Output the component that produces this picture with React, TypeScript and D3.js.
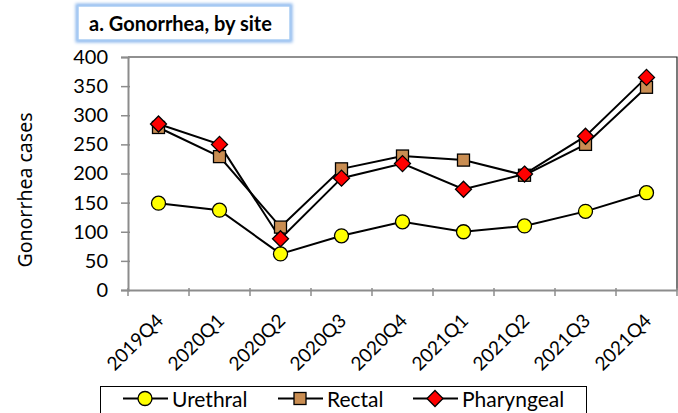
import React, { useRef, useEffect } from "react";
import * as d3 from "d3";

const quarters = ["2019Q4", "2020Q1", "2020Q2", "2020Q3", "2020Q4", "2021Q1", "2021Q2", "2021Q3", "2021Q4"];
const urethral = [149, 137, 62, 93, 117, 100, 110, 135, 167];
const rectal = [279, 229, 108, 208, 230, 223, 197, 250, 348];
const pharyngeal = [285, 250, 88, 192, 217, 173, 199, 264, 365];
const yTickValues = [0, 50, 100, 150, 200, 250, 300, 350, 400];

const W = 678;
const H = 413;
const plot = { left: 128, right: 677, top: 57, bottom: 290 };
const font = "Lato, 'Open Sans', sans-serif";

const drawMarker = (g: any, kind: string, x: number, y: number) => {
  if (kind === "circle") {
    g.append("circle").attr("cx", x).attr("cy", y).attr("r", 7)
      .attr("fill", "#ffff00").attr("stroke", "#000").attr("stroke-width", 1.3);
  } else if (kind === "square") {
    g.append("rect").attr("x", x - 6).attr("y", y - 6).attr("width", 12).attr("height", 12)
      .attr("fill", "#c98d52").attr("stroke", "#000").attr("stroke-width", 1.3);
  } else {
    const s = 8;
    g.append("path").attr("d", `M${x},${y - s}L${x + s},${y}L${x},${y + s}L${x - s},${y}Z`)
      .attr("fill", "#ff0000").attr("stroke", "#000").attr("stroke-width", 1.3);
  }
};

const App = () => {
  const ref: any = useRef();

  useEffect(() => {
    const svg = d3.select(ref.current);
    svg.selectAll("*").remove();

    const x = d3.scaleBand().domain(quarters).range([plot.left, plot.right]);
    const y = d3.scaleLinear().domain([0, 400]).range([plot.bottom, plot.top]);

    // plot area border
    svg.append("path")
      .attr("d", `M${plot.left},${plot.top}H${plot.right}V${plot.bottom}`)
      .attr("fill", "none").attr("stroke", "#222").attr("stroke-width", 1.2);

    // title box with soft blue glow
    const defs = svg.append("defs");
    const f = defs.append("filter").attr("id", "glow").attr("x", "-10%").attr("y", "-40%")
      .attr("width", "120%").attr("height", "180%");
    f.append("feGaussianBlur").attr("stdDeviation", 1.8);
    svg.append("rect").attr("x", 78).attr("y", 6).attr("width", 212).attr("height", 34)
      .attr("fill", "none").attr("stroke", "#8fb9ee").attr("stroke-width", 5).attr("filter", "url(#glow)");
    svg.append("rect").attr("x", 78).attr("y", 6).attr("width", 212).attr("height", 34)
      .attr("fill", "#fff").attr("stroke", "#a9ccf3").attr("stroke-width", 1.5);
    svg.append("text").attr("x", 89).attr("y", 31).attr("font-family", font)
      .attr("font-weight", "bold").attr("font-size", 20).text("a. Gonorrhea, by site");

    // y axis
    const yAxis = svg.append("g").attr("transform", `translate(${plot.left},0)`)
      .call(d3.axisLeft(y).tickValues(yTickValues).tickSize(7).tickPadding(13));
    yAxis.select(".domain").attr("stroke", "#8c8c8c").attr("stroke-width", 2);
    yAxis.selectAll(".tick line").attr("stroke", "#8c8c8c").attr("stroke-width", 1.5).attr("x2", 2).attr("x1", -7);
    yAxis.selectAll(".tick text").attr("font-family", font).attr("font-size", 20).attr("fill", "#000");

    // x axis
    const xAxis = svg.append("g").attr("transform", `translate(0,${plot.bottom})`)
      .call(d3.axisBottom(x).tickSize(0).tickFormat(() => ""));
    xAxis.select(".domain").attr("stroke", "#8c8c8c").attr("stroke-width", 2);
    const tickPos = [...quarters.map((q) => x(q) as number), plot.right];
    xAxis.selectAll(".bt").data(tickPos).enter().append("line")
      .attr("x1", (d: any) => d).attr("x2", (d: any) => d).attr("y1", -2).attr("y2", 6)
      .attr("stroke", "#8c8c8c").attr("stroke-width", 1.5);
    svg.selectAll(".xl").data(quarters).enter().append("text")
      .attr("transform", (d: any) => `translate(${(x(d) as number) + x.bandwidth() / 2 + 6},${plot.bottom + 32}) rotate(-45)`)
      .attr("text-anchor", "end").attr("font-family", font).attr("font-size", 19).text((d: any) => d);

    // y title
    svg.append("text").attr("transform", `translate(32,190) rotate(-90)`)
      .attr("text-anchor", "middle").attr("font-family", "'Noto Sans', sans-serif").attr("font-size", 19.5)
      .text("Gonorrhea cases");

    const series = [
      { name: "Urethral", values: urethral, kind: "circle" },
      { name: "Rectal", values: rectal, kind: "square" },
      { name: "Pharyngeal", values: pharyngeal, kind: "diamond" },
    ];
    const cx = (i: number) => (x(quarters[i]) as number) + x.bandwidth() / 2;
    const line = d3.line<number>().x((_, i) => cx(i)).y((d) => y(d));

    series.forEach((s) => {
      svg.append("path").attr("d", line(s.values)).attr("fill", "none")
        .attr("stroke", "#000").attr("stroke-width", 2);
    });
    series.forEach((s) => {
      const g = svg.append("g");
      s.values.forEach((v, i) => drawMarker(g, s.kind, cx(i), y(v)));
    });

    // legend
    svg.append("rect").attr("x", 100.5).attr("y", 386.5).attr("width", 486).attr("height", 30)
      .attr("fill", "#fff").attr("stroke", "#000").attr("stroke-width", 1);
    const legendX = [123, 278, 413];
    series.forEach((s, i) => {
      const lx = legendX[i];
      const g = svg.append("g");
      g.append("line").attr("x1", lx).attr("x2", lx + 45).attr("y1", 398.5).attr("y2", 398.5)
        .attr("stroke", "#000").attr("stroke-width", 2);
      drawMarker(g, s.kind, lx + 22, 398.5);
      g.append("text").attr("x", lx + 49).attr("y", 407).attr("font-family", font)
        .attr("font-size", 21).text(s.name);
    });
  }, []);

  return (
    <svg ref={ref} width={W} height={H} style={{ position: "absolute", left: 0, top: 0, background: "#fff" }} />
  );
};

export default App;
